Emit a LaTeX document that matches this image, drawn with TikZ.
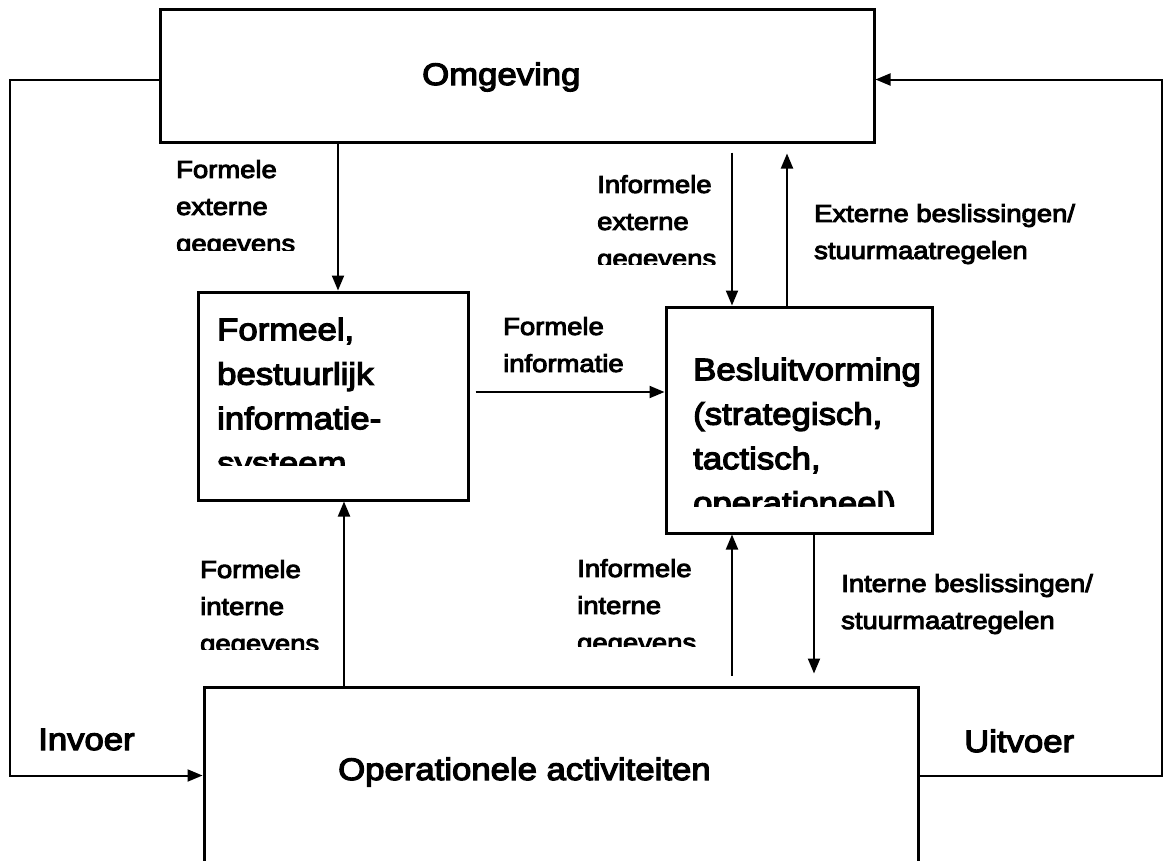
\documentclass[tikz,border=0pt]{standalone}
\usepackage{fontspec}
\setmainfont{Liberation Sans}[FakeStretch=1.12,FakeBold=4]
\usetikzlibrary{arrows.meta}

\begin{document}
\begin{tikzpicture}
		[x=1pt,y=-1pt,line cap=butt,
		%Styles
		main box/.style={draw,line width=3pt,inner sep=0pt},
		box text/.style={inner sep=0pt,align=left,font=\fontsize{31}{44.5}\selectfont},
		flow/.style={-{Triangle[length=15pt,width=12pt]},line width=2pt},
		flow text/.style={anchor=north west,inner sep=0pt,align=left,
			font=\fontsize{24.5}{37}\selectfont}
		]
		
		\clip (0,0) rectangle (1165,860);
		
		%Columns and rows of the connectors
		\coordinate (c1) at (338,0);
		\coordinate (c2) at (732,0);
		\coordinate (c3) at (787,0);
		\coordinate (c4) at (0,392);
		\coordinate (c5) at (344,0);
		\coordinate (c6) at (814,0);
		\coordinate (r1) at (0,79.5);
		\coordinate (r2) at (0,775.5);
		\coordinate (lft) at (10,400);
		\coordinate (rgt) at (1162,400);
		
		%The boxes
		\node[main box,minimum width=714pt,minimum height=133pt] (omg) at (517,75.5) {};
		\node[main box,minimum width=270pt,minimum height=208pt] (fbis) at (333,396) {};
		\node[main box,minimum width=266pt,minimum height=226pt] (besl) at (799,420) {};
		\node[main box,minimum width=714pt,minimum height=190pt] (ops) at (561,782) {};
		
		\node[box text,anchor=base west] (omgtxt) at (422,85) {Omgeving};
		\begin{scope}
			\clip (200,300) rectangle (460,465);
			\node[box text,anchor=north west] (fbistxt) at (217,317.5)
				{Formeel,\\bestuurlijk\\informatie-\\systeem};
		\end{scope}
		\begin{scope}
			\clip (670,320) rectangle (928,506);
			\node[box text,anchor=north west] (besltxt) at (693,357.5)
				{Besluitvorming\\(strategisch,\\tactisch,\\operationeel)};
		\end{scope}
		\node[box text,anchor=base west] (opstxt) at (338,780) {Operationele activiteiten};
		
		%The connectors
		\draw[flow] (omg.west |- r1) -| (lft) |- (ops.west |- r2);
		\draw[flow] (ops.east |- r2) -| (rgt) |- (omg.east |- r1);
		\draw[flow] (omg.south -| c1) -- (fbis.north -| c1);
		\draw[flow,shorten <=9pt] (omg.south -| c2) -- (besl.north -| c2);
		\draw[flow,shorten >=10pt] (besl.north -| c3) -- (omg.south -| c3);
		\draw[flow,shorten <=6pt] (fbis.east |- c4) -- (besl.west |- c4);
		\draw[flow] (ops.north -| c5) -- (fbis.south -| c5);
		\draw[flow,shorten <=10pt] (ops.north -| c2) -- (besl.south -| c2);
		\draw[flow,shorten >=12pt] (besl.south -| c6) -- (ops.north -| c6);
		
		%Labels
		\begin{scope}
			\clip (160,150) rectangle (330,250);
			\node[flow text] (lab1) at (176,160) {Formele\\externe\\gegevens};
		\end{scope}
		\begin{scope}
			\clip (580,160) rectangle (728,264);
			\node[flow text] (lab2) at (597,175) {Informele\\externe\\gegevens};
		\end{scope}
		\node[flow text] (lab3) at (814,204) {Externe beslissingen/\\stuurmaatregelen};
		\node[flow text] (lab4) at (503,317) {Formele\\informatie};
		\begin{scope}
			\clip (190,545) rectangle (340,649);
			\node[flow text] (lab5) at (200,560) {Formele\\interne\\gegevens};
		\end{scope}
		\begin{scope}
			\clip (560,545) rectangle (728,646);
			\node[flow text] (lab6) at (577,559) {Informele\\interne\\gegevens};
		\end{scope}
		\node[flow text] (lab7) at (841,574) {Interne beslissingen/\\stuurmaatregelen};
		\node[box text,anchor=base west] (lab8) at (38,750) {Invoer};
		\node[box text,anchor=base west] (lab9) at (964,752) {Uitvoer};
	\end{tikzpicture}
\end{document}
